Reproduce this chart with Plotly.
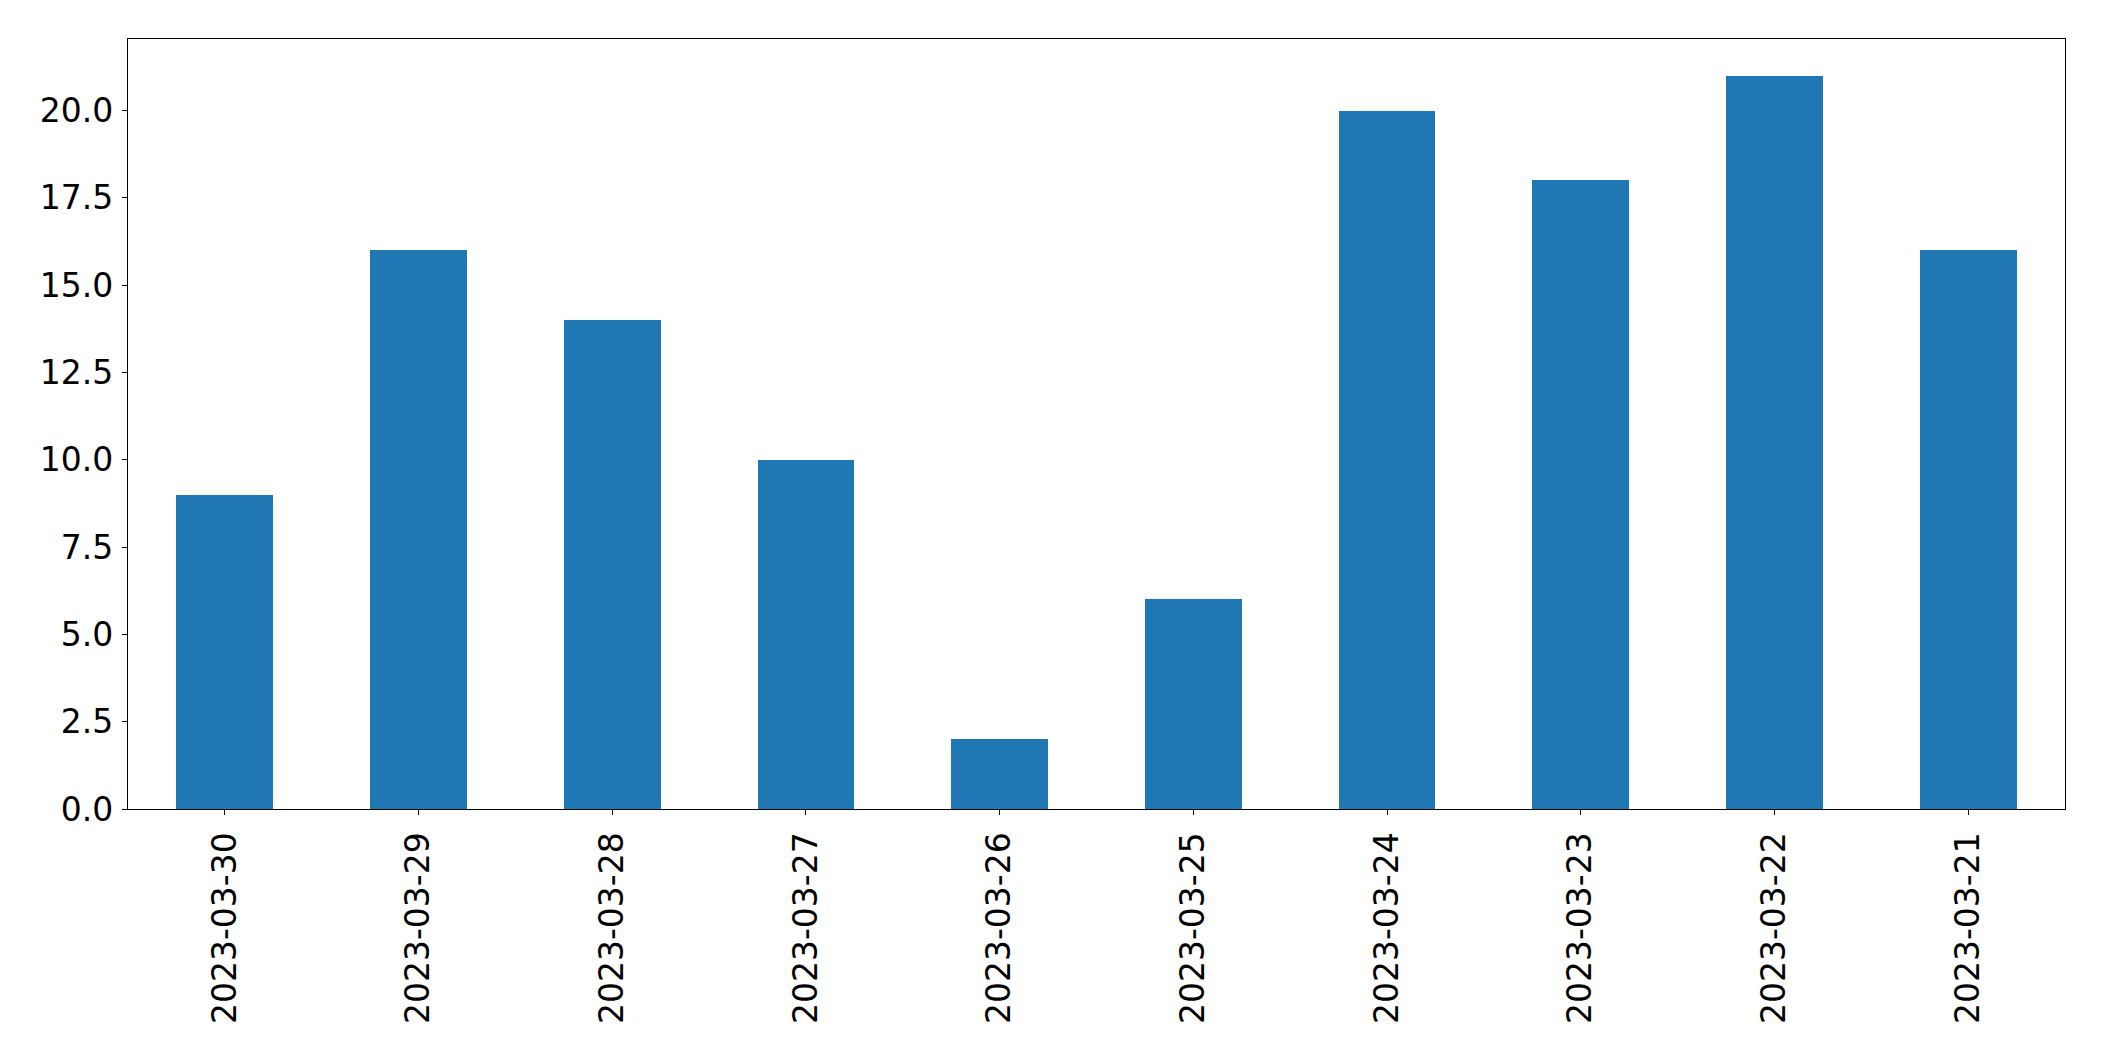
import plotly.graph_objects as go

dates = ["2023-03-30", "2023-03-29", "2023-03-28", "2023-03-27", "2023-03-26",
         "2023-03-25", "2023-03-24", "2023-03-23", "2023-03-22", "2023-03-21"]
counts = [9, 16, 14, 10, 2, 6, 20, 18, 21, 16]
ytick_vals = [0, 2.5, 5, 7.5, 10, 12.5, 15, 17.5, 20]
ytick_text = ["0.0", "2.5", "5.0", "7.5", "10.0", "12.5", "15.0", "17.5", "20.0"]

fig = go.Figure(go.Bar(x=list(range(len(dates))), y=counts, width=0.5,
                       marker=dict(color="#1f77b4", line=dict(width=0))))

fig.update_layout(
    width=2104, height=1061,
    margin=dict(l=127.5, r=38.7, t=39.3, b=252, autoexpand=False),
    paper_bgcolor="white", plot_bgcolor="white",
    font=dict(family="DejaVu Sans", size=33, color="black"),
    showlegend=False,
    bargap=0,
)
fig.update_xaxes(
    range=[-0.5, 9.5], tickmode="array", tickvals=list(range(len(dates))), ticktext=dates,
    tickangle=-90, ticks="outside", ticklen=5, tickwidth=1.1, tickcolor="black",
    showline=True, linecolor="black", linewidth=1.1, mirror=True, showgrid=False,
    zeroline=False, ticklabelstandoff=4,
)
fig.update_yaxes(
    range=[0, 22.05], tickmode="array", tickvals=ytick_vals, ticktext=ytick_text,
    ticks="outside", ticklen=5, tickwidth=1.1, tickcolor="black",
    showline=True, linecolor="black", linewidth=1.1, mirror=True, showgrid=False,
    zeroline=False, ticklabelstandoff=2,
)
fig.write_html("out.html")
